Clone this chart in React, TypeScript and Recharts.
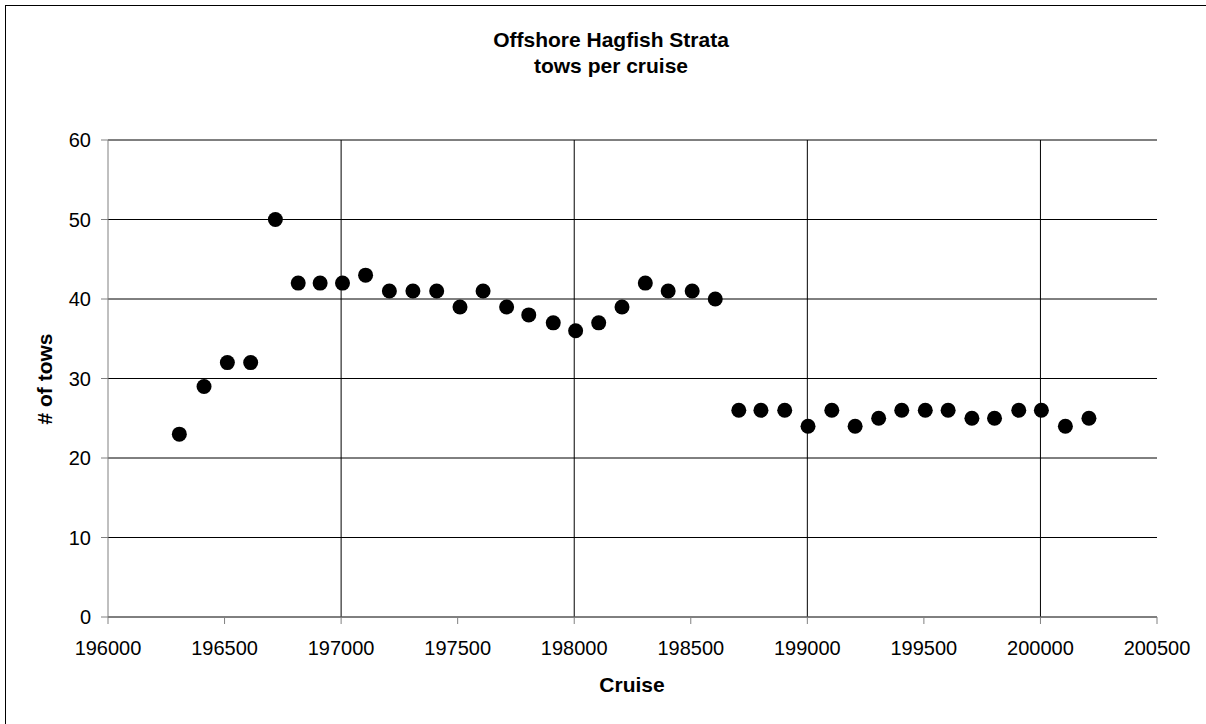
import React from 'react';
import { ScatterChart, Scatter, XAxis, YAxis, CartesianGrid, ReferenceLine } from 'recharts';

const cruises = [
  196306, 196412, 196512, 196612, 196718, 196816, 196910, 197006, 197105, 197207,
  197308, 197410, 197510, 197609, 197710, 197805, 197910, 198006, 198105, 198205,
  198305, 198403, 198506, 198605, 198706, 198801, 198903, 199003, 199105, 199205,
  199306, 199405, 199506, 199604, 199706, 199803, 199907, 200004, 200107, 200208,
];
const tows = [
  23, 29, 32, 32, 50, 42, 42, 42, 43, 41,
  41, 41, 39, 41, 39, 38, 37, 36, 37, 39,
  42, 41, 41, 40, 26, 26, 26, 24, 26, 24,
  25, 26, 26, 26, 25, 25, 26, 26, 24, 25,
];
const xTicks = [196000, 196500, 197000, 197500, 198000, 198500, 199000, 199500, 200000, 200500];
const xGrid = [197000, 198000, 199000, 200000];
const yTicks = [0, 10, 20, 30, 40, 50, 60];

const data = cruises.map((c, i) => ({ cruise: c, tows: tows[i] }));

const FONT = '"Liberation Sans", Arial, Helvetica, sans-serif';

const Dot = (props: any) => {
  const { cx, cy } = props;
  if (cx == null || cy == null) return null;
  return <circle cx={cx} cy={cy} r={7.5} fill="#000" />;
};

export default function App() {
  return (
    <div style={{ position: 'absolute', left: 0, top: 0, width: 1206, height: 724, overflow: 'hidden', background: '#fff', fontFamily: FONT }}>
      <div style={{ position: 'absolute', left: 5, top: 5, right: -5, bottom: -5, borderLeft: '1px solid #000', borderTop: '1px solid #000' }} />
      <div style={{ position: 'absolute', left: 311, top: 27, width: 600, textAlign: 'center', fontSize: 21, fontWeight: 'bold', lineHeight: '26px', color: '#000' }}>
        <div>Offshore Hagfish Strata</div>
        <div>tows per cruise</div>
      </div>
      <div style={{ position: 'absolute', left: 0, top: 0 }}>
        <ScatterChart width={1206} height={724} margin={{ top: 140, right: 49, bottom: 47, left: 48 }}>
          <CartesianGrid vertical={false} stroke="#000" strokeWidth={1} />
          {xGrid.map((v) => (
            <ReferenceLine key={v} x={v} stroke="#000" strokeWidth={1} />
          ))}
          <XAxis
            type="number"
            dataKey="cruise"
            domain={[196000, 200500]}
            ticks={xTicks}
            interval={0}
            allowDataOverflow
            height={60}
            tickSize={7}
            tickMargin={17}
            axisLine={{ stroke: '#808080' }}
            tickLine={{ stroke: '#808080' }}
            tick={{ fill: '#000', fontSize: 20, fontFamily: FONT }}
          />
          <YAxis
            type="number"
            dataKey="tows"
            domain={[0, 60]}
            ticks={yTicks}
            interval={0}
            width={60}
            tickSize={7}
            tickMargin={10}
            axisLine={{ stroke: '#808080' }}
            tickLine={{ stroke: '#808080' }}
            tick={{ fill: '#000', fontSize: 20, fontFamily: FONT }}
          />
          <Scatter data={data} fill="#000" shape={<Dot />} isAnimationActive={false} />
        </ScatterChart>
      </div>
      <div style={{ position: 'absolute', left: 432, top: 672, width: 400, textAlign: 'center', fontSize: 21, fontWeight: 'bold', lineHeight: '26px', color: '#000' }}>
        Cruise
      </div>
      <div style={{ position: 'absolute', left: -55, top: 366, width: 200, textAlign: 'center', fontSize: 21, fontWeight: 'bold', lineHeight: '26px', color: '#000', transform: 'rotate(-90deg)' }}>
        # of tows
      </div>
    </div>
  );
}
